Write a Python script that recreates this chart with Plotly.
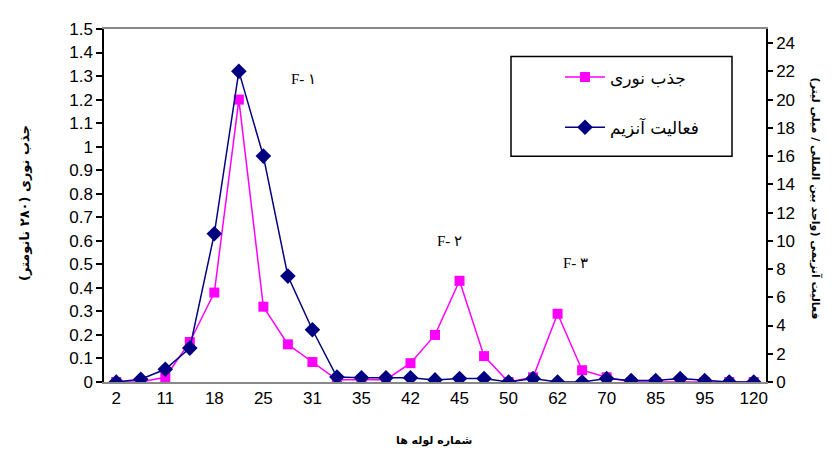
import plotly.graph_objects as go

tick_labels = ["2", "11", "18", "25", "31", "35", "42", "45", "50", "62", "70", "85", "95", "120"]
tube_index = list(range(27))
absorbance = [0, 0, 0.02, 0.17, 0.38, 1.2, 0.32, 0.16, 0.085, 0.01, 0.01, 0.01, 0.08, 0.2,
              0.43, 0.11, 0, 0.02, 0.29, 0.05, 0.02, 0, 0, 0, 0, 0, 0]
activity = [0, 0.2, 0.9, 2.4, 10.5, 22, 16, 7.5, 3.7, 0.35, 0.3, 0.3, 0.3, 0.15,
            0.25, 0.25, 0, 0.25, 0, 0, 0.25, 0.1, 0.1, 0.25, 0.1, 0, 0]
series_names = ["جذب نوری", "فعالیت آنزیم"]

# page body has an 8px margin; figure is sized to fill the rest of the window
OFF = 8
W, H = 836 - OFF, 454 - OFF
PL, PR, PT, PB = 104, 766, 24, 382  # plot area in window pixels
L, R, T, B = PL - OFF, W - (PR - OFF), PT - OFF, H - (PB - OFF)
pw, ph = W - L - R, H - T - B

def px(x):
    return (x - OFF - L) / pw

def py(y):
    return (H - B - (y - OFF)) / ph

fig = go.Figure()
fig.add_trace(go.Scatter(
    x=tube_index, y=absorbance, name=series_names[0], mode="lines+markers",
    line=dict(color="#FF00FF", width=1.5),
    marker=dict(symbol="square", size=10, color="#FF00FF"),
    legendgroup="a", yaxis="y"))
fig.add_trace(go.Scatter(
    x=tube_index, y=activity, name=series_names[1], mode="lines+markers",
    line=dict(color="#000080", width=1.5),
    marker=dict(symbol="diamond", size=12, color="#000080"),
    legendgroup="b", yaxis="y2"))

tick_font = dict(family="Liberation Sans, Arial", size=17, color="black")

fig.update_layout(
    width=W, height=H,
    margin=dict(l=L, r=R, t=T, b=B),
    plot_bgcolor="white", paper_bgcolor="white",
    showlegend=True,
    legend=dict(x=px(560), y=py(55), xanchor="left", yanchor="top",
                bgcolor="rgba(0,0,0,0)", borderwidth=0,
                font=dict(family="DejaVu Sans", size=17, color="black"),
                tracegroupgap=25, itemwidth=40),
    xaxis=dict(range=[-0.5, 26.5], tickmode="array",
               tickvals=tube_index[::2], ticktext=tick_labels,
               showline=True, linecolor="#888888", linewidth=1.5, mirror=True,
               ticks="", showgrid=False, zeroline=False, tickfont=tick_font),
    yaxis=dict(range=[0, 1.5], dtick=0.1, tickformat="~g",
               showline=True, linecolor="black", linewidth=1.5,
               ticks="outside", ticklen=6, tickcolor="black", tickwidth=1.5,
               showgrid=False, zeroline=False, tickfont=tick_font),
    yaxis2=dict(range=[0, 25], tickmode="array", tickvals=list(range(0, 25, 2)),
                overlaying="y", side="right",
                showline=True, linecolor="black", linewidth=1.5,
                ticks="outside", ticklen=5, tickcolor="black", tickwidth=1.5,
                showgrid=False, zeroline=False, tickfont=tick_font),
)

fig.add_shape(type="rect", xref="paper", yref="paper",
              x0=px(511), x1=px(732), y0=py(153), y1=py(52),
              line=dict(color="black", width=1.5), fillcolor="rgba(0,0,0,0)")

annots = [
    ("F- ۱", 289, 65),
    ("F- ۲", 449, 239),
    ("F- ۳", 590, 261),
]
for txt, ax_, ay_ in annots:
    fig.add_annotation(text=txt, xref="paper", yref="paper", x=px(ax_), y=py(ay_),
                       showarrow=False,
                       font=dict(family="Liberation Serif", size=15, color="black"))

fig.add_annotation(text="<b>جذب نوری (۲۸۰ نانومتر)</b>", xref="paper", yref="paper",
                   x=px(15), y=py(201), showarrow=False, textangle=-90,
                   font=dict(family="DejaVu Sans", size=13, color="black"))
fig.add_annotation(text="<b>شماره لوله ها</b>", xref="paper", yref="paper",
                   x=px(434), y=py(450), showarrow=False,
                   font=dict(family="DejaVu Sans", size=11, color="black"))
fig.add_annotation(text="<b>فعالیت آنزیمی (واحد بین المللی / میلی لیتر)</b>",
                   xref="paper", yref="paper", x=px(825), y=py(196),
                   showarrow=False, textangle=90,
                   font=dict(family="DejaVu Sans", size=11, color="black"))

fig.write_html("out.html")
